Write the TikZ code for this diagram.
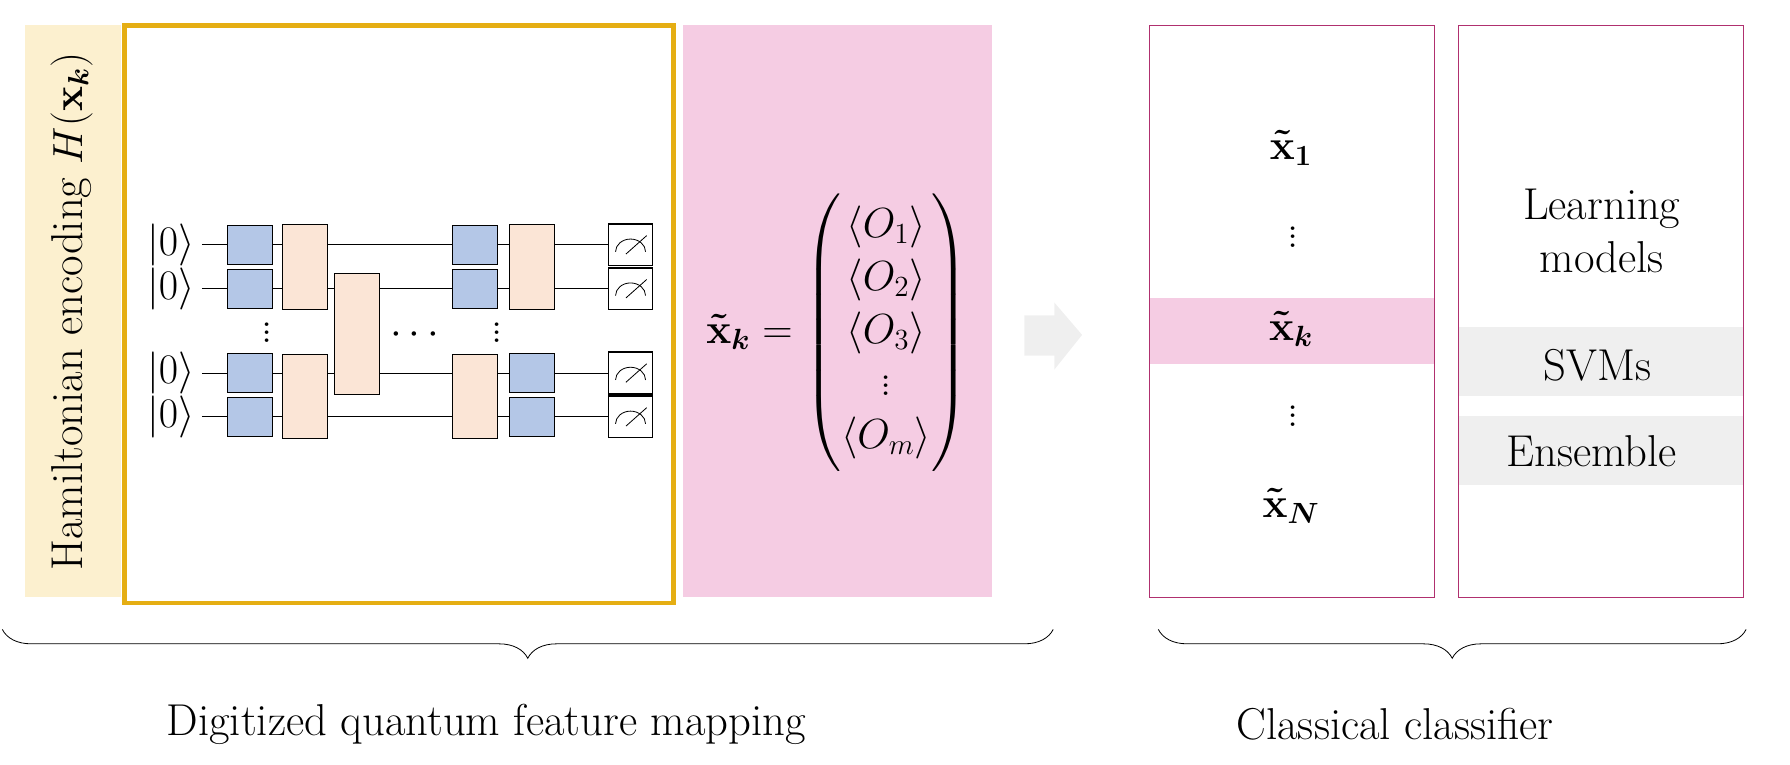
\documentclass[tikz,border=0pt]{standalone}
\usepackage{amsmath,bm}
\usetikzlibrary{calc,shapes,arrows,decorations.pathreplacing}
\definecolor{hamyellow}{HTML}{FCF0CF}
\definecolor{frameorange}{HTML}{E5AE13}
\definecolor{featpink}{HTML}{F5CCE3}
\definecolor{clsmagenta}{HTML}{B0306F}
\definecolor{gateblue}{HTML}{B4C7E7}
\definecolor{gatepeach}{HTML}{FBE5D6}
\definecolor{bandgray}{HTML}{EFEFEF}
\tikzset{
  qgate/.style={draw, fill=gateblue, minimum width=0.78cm, minimum height=0.68cm, inner sep=0pt},
  pgate/.style={draw, fill=gatepeach, minimum width=0.78cm, inner sep=0pt},
  meter/.style={draw, thick, fill=white, minimum width=0.76cm, minimum height=0.72cm, inner sep=0pt},
  bigtxt/.style={font=\fontsize{22}{26}\selectfont},
}
\begin{document}
\begin{tikzpicture}[x=0.02cm, y=-0.02cm]
    \useasboundingbox (0,0) rectangle (1550,662);
    % backgrounds
    \fill [hamyellow] (22,22) rectangle (105,517);
    \node [bigtxt, rotate=90] (ham) at (62,270) {Hamiltonian encoding $H(\mathbf{x}_{\bm{k}})$};
    \fill [featpink] (591,22) rectangle (859,517);
    \draw [frameorange, line width=2.2pt, fill=white] (108,22) rectangle (583,522);

    % wires
    \foreach \w/\y in {1/212, 2/250, 3/323, 4/361} {
      \node [bigtxt] (ket\w) at (148,\y) {$|0\rangle$};
      \node [meter] (m\w) at (546,\y) {};
      \draw (ket\w.east) -- (m\w.west);
      \draw ($(m\w.center)+(-13,6)$) arc (180:360:13 and 11);
      \draw ($(m\w.center)+(-4,8)$) -- ($(m\w.center)+(14,-8)$);
    }
    % gates
    \foreach \w/\y in {1/212, 2/250, 3/323, 4/361} \node [qgate] (a\w) at (216,\y) {};
    \foreach \w/\y in {1/212, 2/250} \node [qgate] (b\w) at (411,\y) {};
    \foreach \w/\y in {3/323, 4/361} \node [qgate] (c\w) at (461,\y) {};
    \node [pgate, minimum height=1.46cm] (p12) at (264,231) {};
    \node [pgate, minimum height=1.46cm] (p34) at (264,343) {};
    \node [pgate, minimum height=2.1cm] (p23) at (309,289) {};
    \node [pgate, minimum height=1.46cm] (q34) at (411,343) {};
    \node [pgate, minimum height=1.46cm] (q12) at (461,231) {};
    \node [bigtxt] (vd1) at (231,283) {$\vdots$};
    \node [bigtxt] (vd2) at (430,283) {$\vdots$};
    \node [bigtxt] (hd) at (362,290) {$\cdots$};

    % feature vector
    \node [bigtxt] (vec) at (725,288) {$\bm{\tilde{\mathbf{x}}_{k}} = \begin{pmatrix} \langle O_1\rangle\\ \langle O_2\rangle\\ \langle O_3\rangle\\ \vdots\\ \langle O_m\rangle \end{pmatrix}$};

    % arrow
    \fill [bandgray] (887,273) -- (913,273) -- (913,262) -- (937,290) -- (913,320) -- (913,308) -- (887,308) -- cycle;

    % classifier
    \fill [featpink] (995,258) rectangle (1242,315);
    \draw [clsmagenta] (995,22) rectangle (1242,517);
    \node [bigtxt] (x1) at (1118,128) {$\bm{\tilde{\mathbf{x}}_1}$};
    \node [bigtxt] (d1) at (1120,200) {$\vdots$};
    \node [bigtxt] (xk) at (1118,285) {$\bm{\tilde{\mathbf{x}}_k}$};
    \node [bigtxt] (d2) at (1120,355) {$\vdots$};
    \node [bigtxt] (xN) at (1118,438) {$\bm{\tilde{\mathbf{x}}_N}$};
    \fill [bandgray] (1263,283) rectangle (1510,343);
    \fill [bandgray] (1263,360) rectangle (1510,420);
    \draw [clsmagenta] (1263,22) rectangle (1510,517);
    \node [bigtxt, align=center] (learn) at (1387,200) {Learning\\models};
    \node [bigtxt] (svm) at (1383,316) {SVMs};
    \node [bigtxt] (ens) at (1378,391) {Ensemble};

    % braces
    \draw [decorate, decoration={brace, mirror, amplitude=0.5cm}] (2,545) -- (912,545);
    \draw [decorate, decoration={brace, mirror, amplitude=0.5cm}] (1003,545) -- (1512,545);
    \node [bigtxt] (qfm) at (421,627) {Digitized quantum feature mapping};
    \node [bigtxt] (cc) at (1208,627) {Classical classifier};
  \end{tikzpicture}
\end{document}
